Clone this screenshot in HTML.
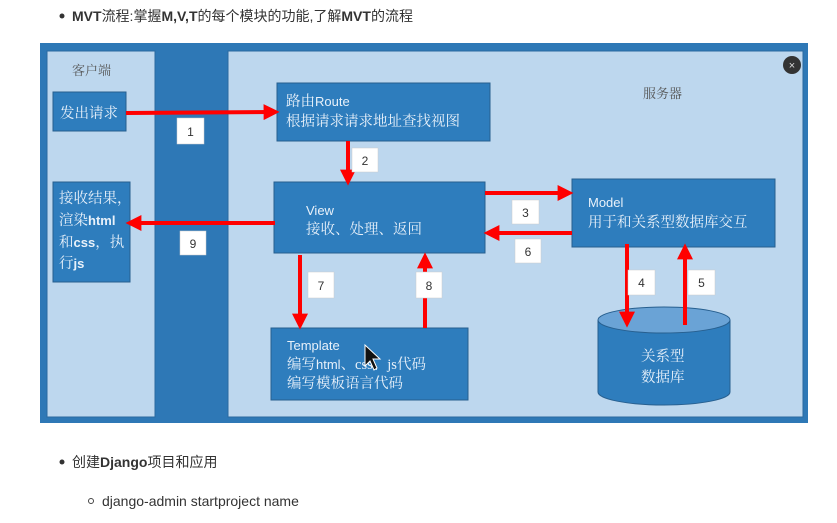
<!DOCTYPE html>
<html><head><meta charset="utf-8"><style>
html,body{margin:0;padding:0;background:#fff;width:837px;height:523px;overflow:hidden}
svg{display:block}
.t{font-family:"Liberation Sans","Noto Sans CJK SC",sans-serif}
.s{font-family:"Liberation Serif","Noto Serif CJK SC",serif}
</style></head><body>
<svg width="837" height="523" viewBox="0 0 837 523" xmlns="http://www.w3.org/2000/svg">
<defs>
<marker id="ah" markerWidth="4" markerHeight="4" refX="2.6" refY="2" orient="auto" markerUnits="strokeWidth">
<path d="M0,0 L4,2 L0,4 z" fill="#f00"/></marker>
</defs>
<circle cx="62" cy="16" r="2.5" fill="#333"/>
<text x="72" y="21" class="t" font-size="14" font-weight="bold" fill="#333">MVT<tspan font-weight="normal">流程:掌握</tspan>M,V,T<tspan font-weight="normal">的每个模块的功能,了解</tspan>MVT<tspan font-weight="normal">的流程</tspan></text>

<rect x="40" y="43" width="768" height="380" fill="#2e78b6"/>
<rect x="47" y="51" width="108" height="366" fill="#bdd7ee" stroke="#2a6aa0" stroke-width="1"/>
<rect x="228" y="51" width="575" height="366" fill="#bdd7ee" stroke="#2a6aa0" stroke-width="1"/>
<circle cx="792" cy="65" r="9" fill="#333"/>
<text x="792" y="69" text-anchor="middle" class="t" font-size="11" fill="#ddd">×</text>

<text x="72" y="75" class="s" font-size="13" fill="#555">客户端</text>
<text x="643" y="98" class="s" font-size="13" fill="#555">服务器</text>

<g fill="#2e7dbd" stroke="#275f8f" stroke-width="1">
<rect x="53" y="92" width="73" height="39"/>
<rect x="53" y="182" width="77" height="100"/>
<rect x="277" y="83" width="213" height="58"/>
<rect x="274" y="182" width="211" height="71"/>
<rect x="572" y="179" width="203" height="68"/>
<rect x="271" y="328" width="197" height="72"/>
<path d="M598,320 L598,392 A66,13 0 0 0 730,392 L730,320"/>
<ellipse cx="664" cy="320" rx="66" ry="13" fill="#6aa3d6"/>
</g>

<g class="s" fill="#e8f1fa" font-size="14.5">
<text x="60" y="118">发出请求</text>
<text x="59" y="203">接收结果，</text>
<text x="59" y="225">渲染<tspan class="t" font-weight="bold" font-size="13">html</tspan></text>
<text x="59" y="247">和<tspan class="t" font-weight="bold" font-size="13">css</tspan>，执</text>
<text x="59" y="268">行<tspan class="t" font-weight="bold" font-size="13">js</tspan></text>
<text x="286" y="106">路由<tspan class="t" font-size="13">Route</tspan></text>
<text x="286" y="126">根据请求请求地址查找视图</text>
<text x="306" y="215" class="t" font-size="13">View</text>
<text x="306" y="234">接收、处理、返回</text>
<text x="588" y="207" class="t" font-size="13">Model</text>
<text x="588" y="227">用于和关系型数据库交互</text>
<text x="287" y="350" class="t" font-size="13">Template</text>
<text x="287" y="369">编写<tspan class="t" font-size="13">html</tspan>、css、js代码</text>
<text x="287" y="388">编写模板语言代码</text>
<text x="641" y="361">关系型</text>
<text x="641" y="382">数据库</text>
</g>

<g stroke="#f00" stroke-width="4" fill="none" marker-end="url(#ah)">
<line x1="126" y1="113" x2="274" y2="112"/>
<line x1="348" y1="141" x2="348" y2="180"/>
<line x1="275" y1="223" x2="131" y2="223"/>
<line x1="485" y1="193" x2="568" y2="193"/>
<line x1="572" y1="233" x2="489" y2="233"/>
<line x1="300" y1="255" x2="300" y2="324"/>
<line x1="425" y1="328" x2="425" y2="258"/>
<line x1="627" y1="244" x2="627" y2="322"/>
<line x1="685" y1="325" x2="685" y2="249"/>
</g>

<g fill="#fff" stroke="#ccc" stroke-width="0.5">
<rect x="177" y="118" width="27" height="26"/>
<rect x="352" y="148" width="26" height="24"/>
<rect x="512" y="200" width="27" height="24"/>
<rect x="515" y="239" width="26" height="24"/>
<rect x="180" y="231" width="26" height="24"/>
<rect x="308" y="272" width="26" height="26"/>
<rect x="416" y="272" width="26" height="26"/>
<rect x="628" y="270" width="27" height="25"/>
<rect x="688" y="270" width="27" height="25"/>
</g>
<g class="t" font-size="12" fill="#333" text-anchor="middle">
<text x="190.5" y="136">1</text>
<text x="365" y="165">2</text>
<text x="525.5" y="217">3</text>
<text x="528" y="256">6</text>
<text x="193" y="248">9</text>
<text x="321" y="290">7</text>
<text x="429" y="290">8</text>
<text x="641.5" y="287">4</text>
<text x="701.5" y="287">5</text>
</g>
<path d="M365,345 L365,366 L370,361 L374,370 L377,368 L373,359 L380,359 z" fill="#111" stroke="#fff" stroke-width="1"/>

<circle cx="62" cy="462" r="2.5" fill="#333"/>
<text x="72" y="467" class="t" font-size="14" fill="#333">创建<tspan font-weight="bold">Django</tspan>项目和应用</text>
<circle cx="91" cy="501" r="2.5" fill="none" stroke="#444" stroke-width="1"/>
<text x="102" y="506" class="t" font-size="14" fill="#333">django-admin startproject name</text>
</svg>
</body></html>
